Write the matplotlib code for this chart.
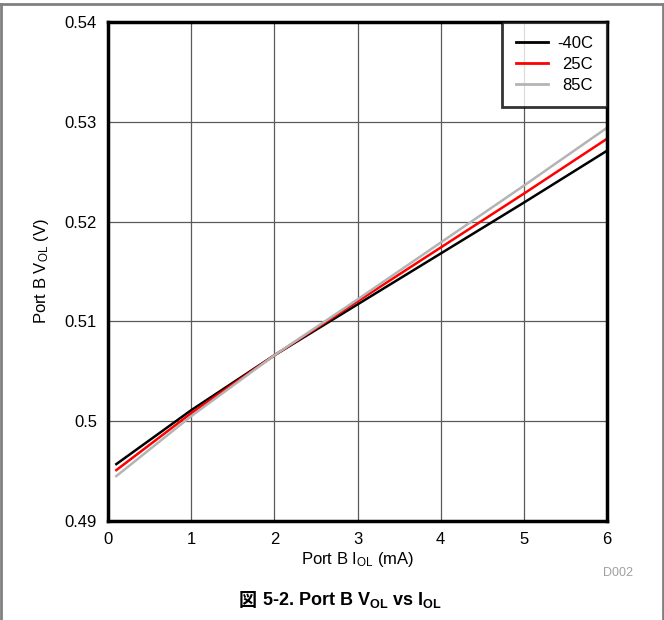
"""Port B V_OL vs I_OL for three temperatures."""
import matplotlib
matplotlib.use("Agg")
import matplotlib.pyplot as plt
from matplotlib.lines import Line2D

plt.rcParams["font.family"] = ["Liberation Sans", "Noto Sans CJK JP"]
plt.rcParams["mathtext.fontset"] = "custom"
plt.rcParams["mathtext.rm"] = "Liberation Sans"
plt.rcParams["mathtext.it"] = "Liberation Sans"
plt.rcParams["mathtext.bf"] = "Liberation Sans:bold"

# load current (mA)
i_ol = [0.1, 1, 2, 3, 4, 5, 6]
# output low voltage (V) per temperature
v_m40 = [0.4957, 0.5011, 0.5066, 0.5117, 0.5168, 0.5219, 0.5271]
v_25 = [0.4951, 0.5008, 0.5066, 0.5120, 0.5174, 0.5228, 0.5283]
v_85 = [0.4945, 0.5005, 0.5066, 0.5122, 0.5179, 0.5236, 0.5294]
labels = ["-40C", "25C", "85C"]
colors = ["#000000", "#ff0000", "#b4b4b4"]

xticks = [0, 1, 2, 3, 4, 5, 6]
yticks = [0.49, 0.50, 0.51, 0.52, 0.53, 0.54]
ytick_labels = ["0.49", "0.5", "0.51", "0.52", "0.53", "0.54"]


def main() -> None:
    W, H = 664, 620
    fig = plt.figure(figsize=(W / 100, H / 100), dpi=100)
    ax = fig.add_axes([108 / W, 1 - 521 / H, (607 - 108) / W, (521 - 22) / H])

    for v, lab, c in zip([v_m40, v_25, v_85], labels, colors):
        ax.plot(i_ol, v, color=c, lw=1.8, label=lab)

    ax.set_xlim(0, 6)
    ax.set_ylim(0.49, 0.54)
    ax.set_xticks(xticks)
    ax.set_yticks(yticks)
    ax.set_yticklabels(ytick_labels)
    ax.tick_params(length=0, labelsize=12, pad=8)
    ax.grid(True, color="#5a5a5a", lw=0.9)
    ax.set_axisbelow(True)
    for sp in ax.spines.values():
        sp.set_linewidth(2.5)

    ax.set_xlabel("Port B I$_{\\mathregular{OL}}$ (mA)", fontsize=12, labelpad=2)
    ax.set_ylabel("Port B V$_{\\mathregular{OL}}$ (V)", fontsize=12, labelpad=10)

    leg = ax.legend(loc="upper right", fontsize=12, frameon=True, fancybox=False,
                    borderaxespad=0, handlelength=1.9, handletextpad=0.55,
                    labelspacing=0.35, borderpad=0.85)
    leg.get_frame().set_edgecolor("black")
    leg.get_frame().set_linewidth(2)
    for ln in leg.get_lines():
        ln.set_linewidth(2)

    fig.text(618 / W, 1 - 573 / H, "D002", color="#a0a0a0", fontsize=9,
             ha="center", va="center")
    fig.text(248 / W, 1 - 600 / H, "図", fontsize=13, fontweight="bold",
             family="Noto Sans CJK JP", ha="center", va="center")
    fig.text(262 / W, 1 - 600 / H,
             "5-2. Port B V$_{\\mathbf{OL}}$ vs I$_{\\mathbf{OL}}$",
             fontsize=13, fontweight="bold", ha="left", va="center")

    # outer frame of the figure
    gc = "#808080"
    fig.add_artist(Line2D([0, 1], [1 - 4 / H, 1 - 4 / H], color=gc, lw=2,
                          transform=fig.transFigure))
    fig.add_artist(Line2D([1 / W, 1 / W], [0, 1 - 4 / H], color=gc, lw=2,
                          transform=fig.transFigure))
    fig.add_artist(Line2D([1 - 1 / W, 1 - 1 / W], [0, 1 - 4 / H], color=gc, lw=2,
                          transform=fig.transFigure))

    # right-align legend labels like the original
    fig.canvas.draw()
    texts = leg.get_texts()
    widths = [t.get_window_extent().width for t in texts]
    wmax = max(widths)
    for t, w in zip(texts, widths):
        t.set_position((wmax - w, 0))

    fig.savefig("out.png", dpi=100)
    plt.close(fig)


if __name__ == "__main__":
    main()
